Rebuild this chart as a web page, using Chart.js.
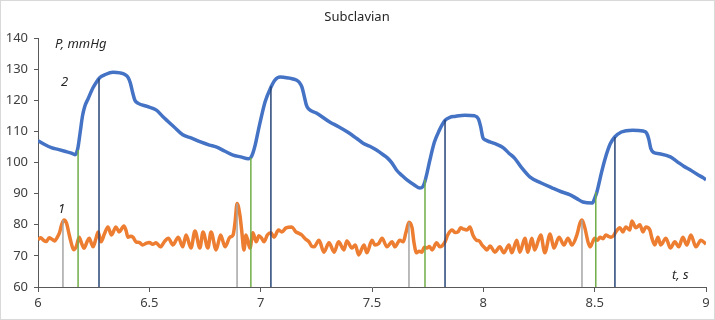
<!DOCTYPE html>
<html>
<head>
<meta charset="utf-8">
<script src="https://cdn.jsdelivr.net/npm/chart.js@4"></script>
<style>
  html, body { margin: 0; padding: 0; background: #fff; }
  #wrap { width: 715px; height: 320px; }
</style>
</head>
<body>
<div id="wrap"><canvas id="chart" width="715" height="320"></canvas></div>
<script>
// curve 2 (upper, blue): time, s / pressure, mmHg
const blueT = [6.00, 6.03, 6.06, 6.09, 6.12, 6.15, 6.166, 6.175, 6.18, 6.19, 6.20, 6.21, 6.225, 6.247, 6.262, 6.278, 6.30, 6.337, 6.368, 6.39, 6.405, 6.415, 6.425, 6.435, 6.45, 6.49, 6.53, 6.56, 6.61, 6.65, 6.69, 6.73, 6.77, 6.80, 6.84, 6.876, 6.91, 6.945, 6.956, 6.965, 6.975, 6.99, 7.00, 7.02, 7.046, 7.064, 7.087, 7.11, 7.13, 7.16, 7.175, 7.185, 7.195, 7.205, 7.215, 7.25, 7.31, 7.35, 7.39, 7.43, 7.46, 7.49, 7.52, 7.55, 7.57, 7.59, 7.61, 7.635, 7.657, 7.69, 7.715, 7.728, 7.738, 7.747, 7.76, 7.78, 7.80, 7.828, 7.85, 7.872, 7.917, 7.96, 7.978, 7.988, 7.998, 8.01, 8.03, 8.06, 8.09, 8.115, 8.14, 8.17, 8.21, 8.26, 8.31, 8.35, 8.39, 8.42, 8.447, 8.49, 8.50, 8.51, 8.52, 8.53, 8.546, 8.57, 8.59, 8.62, 8.67, 8.717, 8.733, 8.743, 8.752, 8.765, 8.79, 8.84, 8.87, 8.90, 8.93, 8.96, 8.99, 9.00];
const blueP = [107, 105.8, 104.8, 104.2, 103.6, 103.0, 102.5, 103.5, 105, 110, 115, 118, 120.5, 124, 125.8, 127.3, 128.2, 129, 128.8, 128.3, 127.3, 125.5, 122.5, 120, 119, 118, 116.9, 114.8, 111.5, 108.9, 107.8, 106.6, 105.6, 105, 103.6, 102.4, 101.8, 101.2, 101.6, 103, 105.5, 110.5, 113.7, 119.5, 124.2, 126.5, 127.5, 127.3, 127.1, 126.5, 125.6, 124.3, 121.5, 118.5, 117.2, 115.9, 113, 111.5, 109.8, 107.8, 106.2, 105.2, 104, 102.5, 101.4, 99.8, 97.6, 95.8, 94.4, 92.8, 91.8, 92.2, 94, 96.6, 100.8, 106.5, 110, 113.5, 114.5, 114.8, 115.2, 115, 114, 111.5, 108, 107.2, 106.6, 105.8, 104.7, 103, 101.4, 98.5, 95.3, 93.4, 91.8, 90.6, 89.6, 88.4, 87.3, 87, 88.5, 90.5, 93.5, 96.6, 101, 106, 108.2, 109.8, 110.4, 110.1, 109.5, 107.5, 104.5, 103.2, 102.8, 101.8, 100.3, 98.8, 97.6, 96.2, 95, 94.4];

// curve 1 (lower, orange)
const orangeT = [6.000, 6.012, 6.025, 6.037, 6.05, 6.062, 6.075, 6.087, 6.097, 6.106, 6.117, 6.128, 6.138, 6.148, 6.16, 6.172, 6.185, 6.196, 6.207, 6.22, 6.23, 6.24, 6.247, 6.26, 6.27, 6.283, 6.298, 6.314, 6.33, 6.35, 6.364, 6.386, 6.396, 6.404, 6.415, 6.427, 6.44, 6.455, 6.47, 6.485, 6.5, 6.515, 6.53, 6.55, 6.567, 6.585, 6.606, 6.63, 6.65, 6.665, 6.687, 6.705, 6.727, 6.741, 6.763, 6.777, 6.8, 6.82, 6.84, 6.862, 6.876, 6.885, 6.894, 6.907, 6.915, 6.925, 6.934, 6.952, 6.965, 6.98, 6.992, 7.004, 7.015, 7.03, 7.046, 7.06, 7.08, 7.095, 7.114, 7.14, 7.158, 7.17, 7.185, 7.2, 7.217, 7.228, 7.24, 7.262, 7.284, 7.307, 7.33, 7.35, 7.374, 7.387, 7.41, 7.425, 7.44, 7.464, 7.477, 7.5, 7.513, 7.53, 7.545, 7.567, 7.59, 7.603, 7.625, 7.64, 7.652, 7.666, 7.68, 7.688, 7.7, 7.712, 7.724, 7.735, 7.747, 7.758, 7.77, 7.79, 7.805, 7.828, 7.84, 7.86, 7.874, 7.886, 7.898, 7.908, 7.926, 7.94, 7.953, 7.97, 7.982, 7.994, 8.007, 8.016, 8.03, 8.052, 8.074, 8.092, 8.115, 8.128, 8.15, 8.164, 8.187, 8.2, 8.218, 8.23, 8.258, 8.276, 8.3, 8.317, 8.34, 8.362, 8.38, 8.398, 8.42, 8.434, 8.443, 8.456, 8.47, 8.479, 8.49, 8.5, 8.512, 8.524, 8.537, 8.55, 8.562, 8.573, 8.585, 8.595, 8.613, 8.627, 8.64, 8.658, 8.667, 8.685, 8.703, 8.717, 8.73, 8.748, 8.757, 8.77, 8.784, 8.797, 8.82, 8.84, 8.86, 8.878, 8.896, 8.914, 8.932, 8.955, 8.977, 9.0];
const orangeP = [75.2, 75.8, 75, 74.6, 75.8, 75.4, 74.8, 76, 77.5, 80, 81.5, 80.5, 77.5, 74.5, 72, 73, 76, 74, 72.5, 74.5, 75.7, 74, 72.9, 75.5, 77.7, 74.5, 77, 79.3, 76.7, 79.3, 77.7, 79.6, 78, 76, 76.3, 76, 74.5, 74.3, 73.5, 74, 74.3, 73.7, 74.2, 72.9, 74.5, 75.7, 73.5, 76, 72.9, 76.7, 72.5, 78, 72.5, 77.7, 72.5, 77.7, 71.9, 76.7, 72.9, 76, 76.7, 80.8, 86.8, 83, 78, 71.9, 76.7, 72.5, 77.4, 74.5, 76.5, 75.7, 74.5, 76.7, 77.4, 76, 78.3, 77.7, 79, 79.3, 77.7, 77.3, 76.7, 75.5, 74.5, 73.2, 72.9, 75, 71.2, 74.2, 71.2, 74.5, 71.9, 74.8, 72.5, 73.5, 70.3, 73.5, 71, 75, 73.5, 74, 75.7, 72.9, 74.5, 72.9, 75, 74.5, 77.4, 80.8, 79, 74.5, 71, 71.5, 71.2, 72.8, 72.5, 73, 71.9, 74.2, 72.9, 74.5, 76.7, 78.3, 77.5, 77.7, 79, 78.7, 78.3, 79.3, 76.7, 75, 74.8, 73.5, 72.5, 71.9, 73.2, 71.2, 72.9, 71, 73.5, 71, 75, 71.2, 75.7, 71.2, 75.7, 71.9, 76.7, 71, 77, 72.5, 76, 73.5, 75.7, 73.5, 76.7, 80.5, 81.5, 79, 74.5, 72.9, 74.3, 75.7, 75, 76, 75.5, 76.7, 76.3, 76, 76.5, 77.7, 79, 77.7, 79.3, 78.3, 81.2, 79, 80, 77.7, 79.3, 78.3, 75.7, 73.5, 76, 73.5, 75.7, 72.5, 74.5, 72.9, 76, 73.5, 76.7, 72.9, 75, 73.8];

// vertical markers: time and the level each one reaches
const grayT = [6.112, 6.894, 7.666, 8.443];
const grayTop = [81.5, 86.8, 80.8, 81.5];
const greenT = [6.18, 6.956, 7.738, 8.505];
const greenTop = [104, 101.5, 94.5, 90.5];
const navyT = [6.274, 7.046, 7.828, 8.591];
const navyTop = [127, 124.5, 113.7, 108.2];

const xTicks = [6, 6.5, 7, 7.5, 8, 8.5, 9];

const toPts = (t, v) => t.map((x, i) => ({ x, y: v[i] }));

const markerSets = (ts, tops, color) =>
  ts.map((t, i) => ({
    type: 'line',
    data: [{ x: t, y: 60 }, { x: t, y: tops[i] }],
    borderColor: color,
    borderWidth: 1.5,
    pointRadius: 0,
    order: 0
  }));

const annot = {
  id: 'annot',
  afterDraw(chart) {
    const { ctx, chartArea: a } = chart;
    ctx.save();
    ctx.strokeStyle = '#d9d9d9';
    ctx.lineWidth = 1;
    ctx.strokeRect(0.5, 0.5, 714, 319);
    ctx.fillStyle = '#262626';
    ctx.textBaseline = 'middle';
    ctx.textAlign = 'center';
    ctx.font = '13px "Noto Sans"';
    ctx.fillText('Subclavian', 357, 17);
    ctx.font = 'italic 13px "Noto Sans"';
    ctx.textAlign = 'left';
    ctx.fillText('P, mmHg', a.left + 17, a.top + 6);
    ctx.fillText('2', a.left + 23, a.top + 44);
    ctx.fillText('1', a.left + 20, a.top + 171);
    ctx.fillText('t, s', a.right - 34, a.bottom - 12);
    ctx.restore();
  }
};

new Chart(document.getElementById('chart'), {
  type: 'line',
  data: {
    datasets: [
      ...markerSets(grayT, grayTop, '#a5a5a5'),
      ...markerSets(greenT, greenTop, '#70ad47'),
      ...markerSets(navyT, navyTop, '#264478'),
      {
        label: '2',
        data: toPts(blueT, blueP),
        borderColor: '#4472c4',
        borderWidth: 3.5,
        pointRadius: 0,
        cubicInterpolationMode: 'monotone',
        order: 1
      },
      {
        label: '1',
        data: toPts(orangeT, orangeP),
        borderColor: '#ed7d31',
        borderWidth: 3.5,
        pointRadius: 0,
        cubicInterpolationMode: 'monotone',
        order: 1
      }
    ]
  },
  options: {
    responsive: false,
    animation: false,
    layout: { padding: { top: 38, right: 9, left: 0, bottom: 0 } },
    plugins: {
      legend: { display: false },
      title: { display: false },
      tooltip: { enabled: false }
    },
    scales: {
      x: {
        type: 'linear',
        min: 6,
        max: 9,
        afterFit: (s) => { s.height = 33; },
        afterBuildTicks: (s) => { s.ticks = xTicks.map((v) => ({ value: v })); },
        ticks: {
          color: '#404040',
          font: { family: 'Noto Sans', size: 13 },
          padding: 3,
          maxRotation: 0,
          callback: (v) => String(v)
        },
        grid: { drawOnChartArea: false, tickLength: 5, color: '#595959' },
        border: { color: '#595959', width: 1 }
      },
      y: {
        min: 60,
        max: 140,
        afterFit: (s) => { s.width = 38; },
        ticks: {
          stepSize: 10,
          color: '#404040',
          font: { family: 'Noto Sans', size: 13 },
          padding: 6
        },
        grid: { drawOnChartArea: false, tickLength: 4, color: '#595959' },
        border: { color: '#595959', width: 1 }
      }
    }
  },
  plugins: [annot]
});
</script>
</body>
</html>
